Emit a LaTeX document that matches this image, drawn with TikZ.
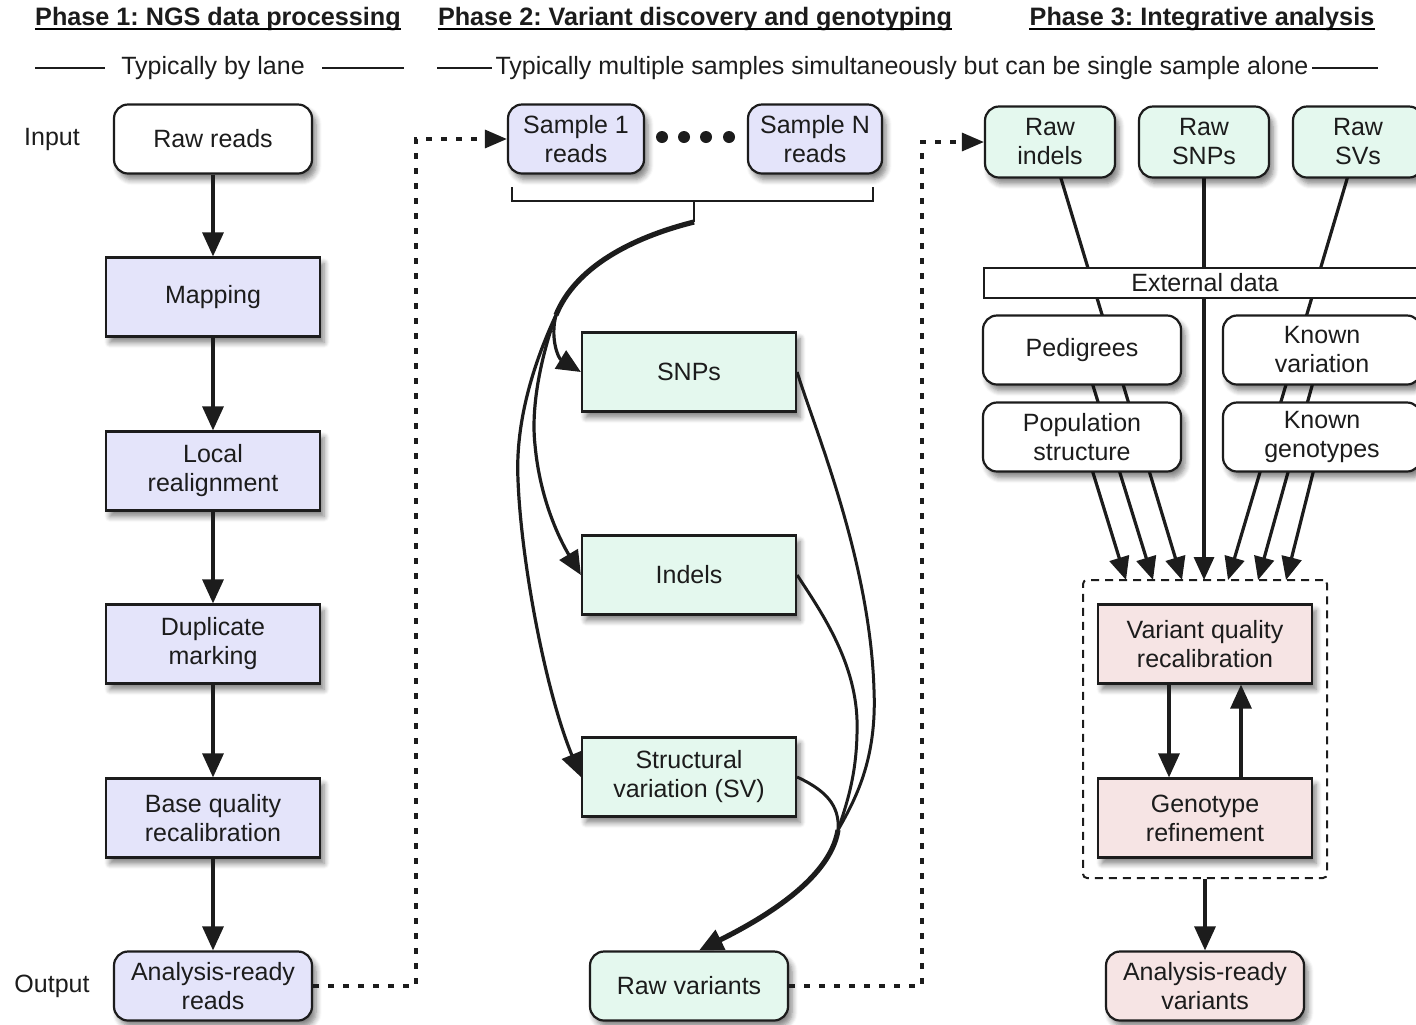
\documentclass[tikz,border=0pt]{standalone}
\usepackage{fontspec}
\setmainfont{Liberation Sans}
\usetikzlibrary{arrows.meta,shadows.blur,backgrounds,calc}
\definecolor{lav}{RGB}{228,228,250}
\definecolor{mint}{RGB}{228,248,238}
\definecolor{rose}{RGB}{246,228,228}
\definecolor{ink}{RGB}{28,28,28}
\frenchspacing
\begin{document}
\begin{tikzpicture}[x=0.5pt,y=-0.5pt,
  every node/.style={font=\fontsize{12.5}{14.5}\selectfont, text=ink},
  shad/.style={blur shadow={shadow xshift=2pt,shadow yshift=-3pt,shadow blur radius=2.8pt,shadow blur steps=6,shadow opacity=50}},
  sqbox/.style={draw=ink, line width=1.1pt, minimum width=107pt, minimum height=39.5pt, align=center, shad},
  rbox/.style={sqbox, rounded corners=7pt, minimum width=99pt, minimum height=34.5pt},
  hdr/.style={font=\bfseries\fontsize{12.6}{15}\selectfont, inner sep=0pt},
  ar/.style={draw=ink, line width=1.6pt, -{Triangle[length=12pt,width=10.5pt]}},
  cl/.style={draw=ink, line width=1.5pt},
  trunk/.style={draw=ink, line width=2.6pt},
  p3/.style={draw=ink, line width=1.6pt, -{Triangle[length=11.5pt,width=10pt]}},
  dotl/.style={draw=ink, line width=1.6pt, dash pattern=on 3pt off 4.5pt},
  thinl/.style={draw=ink, line width=0.6pt}
]
\useasboundingbox (0,0) rectangle (1416,1024);

% ---------- headers ----------
\node[hdr] (h1) at (218,19) {Phase 1: NGS data processing};
\node[hdr] (h2) at (695,19) {Phase 2: Variant discovery and genotyping};
\node[hdr] (h3) at (1202,19) {Phase 3: Integrative analysis};
\foreach \h in {h1,h2,h3}
  \draw[line width=0.9pt] ([yshift=-1.6pt]\h.base west) -- ([yshift=-1.6pt]\h.base east);

\node[inner sep=0pt] (sub1) at (213,68) {Typically by lane};
\node[inner sep=0pt] (sub2) at (902,68) {Typically multiple samples simultaneously but can be single sample alone};
\coordinate (l1a) at (35,68);  \coordinate (l1b) at (105,68);
\coordinate (l1c) at (322,68); \coordinate (l1d) at (404,68);
\coordinate (l2a) at (437,68); \coordinate (l2b) at (492,68);
\coordinate (l2c) at (1312,68);\coordinate (l2d) at (1378,68);
\draw[thinl] (l1a) -- (l1b) (l1c) -- (l1d) (l2a) -- (l2b) (l2c) -- (l2d);

\node (inp) at (52,139) {Input};
\node (outp) at (52,986) {Output};

% ---------- phase 1 ----------
\node[rbox, fill=white] (raw) at (213,139) {Raw reads};
\node[sqbox, fill=lav] (map) at (213,297) {Mapping};
\node[sqbox, fill=lav] (real) at (213,471) {Local\\realignment};
\node[sqbox, fill=lav] (dup) at (213,644) {Duplicate\\marking};
\node[sqbox, fill=lav] (bqr) at (213,818) {Base quality\\recalibration};
\node[rbox, fill=lav] (ardr) at (213,986) {Analysis-ready\\reads};
\draw[ar] (raw) -- (map);
\draw[ar] (map) -- (real);
\draw[ar] (real) -- (dup);
\draw[ar] (dup) -- (bqr);
\draw[ar] (bqr) -- (ardr);

% ---------- phase 2 ----------
\node[rbox, fill=lav, minimum width=68pt] (s1) at (576,139) {Sample 1\\reads};
\node[rbox, fill=lav, minimum width=67pt] (sn) at (815,139) {Sample N\\reads};
\foreach \x in {662,684,706,729} \fill[ink] (\x,137) circle[radius=3pt];
\node[sqbox, fill=mint] (snp) at (689,372) {SNPs};
\node[sqbox, fill=mint] (ind) at (689,575) {Indels};
\node[sqbox, fill=mint] (sv) at (689,777) {Structural\\variation (SV)};
\node[rbox, fill=mint] (rv) at (689,986) {Raw variants};

% bracket
\coordinate (split) at (694,222);
\coordinate (bl) at (556,315);
\coordinate (mr) at (838,830);
\draw[line width=1.1pt, ink] (512,187) -- (512,201) -- (873,201) -- (873,187);
\draw[line width=1.1pt, ink] (694,201) -- (split);

\draw[trunk] (split) .. controls (630,238) and (575,268) .. (bl);
\draw[cl, ar] (bl) .. controls (550,338) and (558,358) .. (snp.west);
\draw[cl, ar] (bl) .. controls (545,345) and (530,400) .. (535,445) .. controls (540,500) and (560,540) .. (ind.west);
\draw[cl, ar] (bl) .. controls (535,360) and (515,420) .. (518,480) .. controls (521,560) and (545,690) .. (sv.west);

\draw[cl] (snp.east) .. controls (815,430) and (870,560) .. (874,690) .. controls (877,760) and (855,800) .. (mr);
\draw[cl] (ind.east) .. controls (820,610) and (855,660) .. (857,720) .. controls (858,770) and (848,800) .. (mr);
\draw[cl] (sv.east) .. controls (825,790) and (840,805) .. (mr);
\draw[trunk, -{Triangle[length=12pt,width=10.5pt]}] (mr) .. controls (830,880) and (760,920) .. ([xshift=5pt]rv.north);

% ---------- dotted links ----------
\coordinate (d1) at (416,986); \coordinate (d2) at (416,139);
\draw[dotl, -{Triangle[length=11pt,width=9pt]}] (ardr.east) -- (d1) -- (d2) -- (s1.west);
\coordinate (d3) at (922,986); \coordinate (d4) at (922,142);

% ---------- phase 3 ----------
\node[rbox, fill=mint, minimum width=65pt, minimum height=35.5pt] (rind) at (1050,142) {Raw\\indels};
\node[rbox, fill=mint, minimum width=65pt, minimum height=35.5pt] (rsnp) at (1204,142) {Raw\\SNPs};
\node[rbox, fill=mint, minimum width=65pt, minimum height=35.5pt] (rsv) at (1358,142) {Raw\\SVs};
\draw[dotl, -{Triangle[length=11pt,width=9pt]}] (rv.east) -- (d3) -- (d4) -- (rind.west);

\node[draw=ink, line width=1pt, fill=white, minimum width=221pt, minimum height=15pt, inner sep=0pt] (ext) at (1205,283) {External data};
\node[rbox, fill=white] (ped) at (1082,350) {Pedigrees};
\node[rbox, fill=white] (kvar) at (1322,350) {Known\\variation};
\node[rbox, fill=white] (pop) at (1082,437) {Population\\structure};
\node[rbox, fill=white] (kgen) at (1322,437) {Known\\genotypes};

\node[draw=ink, line width=1pt, dash pattern=on 4pt off 3pt, rounded corners=2pt, minimum width=122pt, minimum height=149pt] (dbox) at (1205,729) {};
\node[sqbox, fill=rose] (vqr) at (1205,644) {Variant quality\\recalibration};
\node[sqbox, fill=rose] (gref) at (1205,818) {Genotype\\refinement};
\node[rbox, fill=rose] (arv) at (1205,986) {Analysis-ready\\variants};

\coordinate (t1) at (1126,580); \coordinate (t2) at (1153,580);
\coordinate (t3) at (1182,580); \coordinate (t4) at (1204,580);
\coordinate (t5) at (1228,580); \coordinate (t6) at (1258,580);
\coordinate (t7) at (1286,580);
\begin{scope}[on background layer]
\draw[p3] (pop.center) -- (t1);
\draw[p3] (ped.center) -- (t2);
\draw[p3] (rind.center) -- (t3);
\draw[p3] (rsnp.center) -- (t4);
\draw[p3] (rsv.center) -- (t5);
\draw[p3] (kvar.center) -- (t6);
\draw[p3] (kgen.center) -- (t7);
\end{scope}

\draw[ar] ([xshift=-18pt]vqr.south) -- ([xshift=-18pt]gref.north);
\draw[ar] ([xshift=18pt]gref.north) -- ([xshift=18pt]vqr.south);
\draw[ar] (dbox.south) -- (arv.north);
\end{tikzpicture}
\end{document}
